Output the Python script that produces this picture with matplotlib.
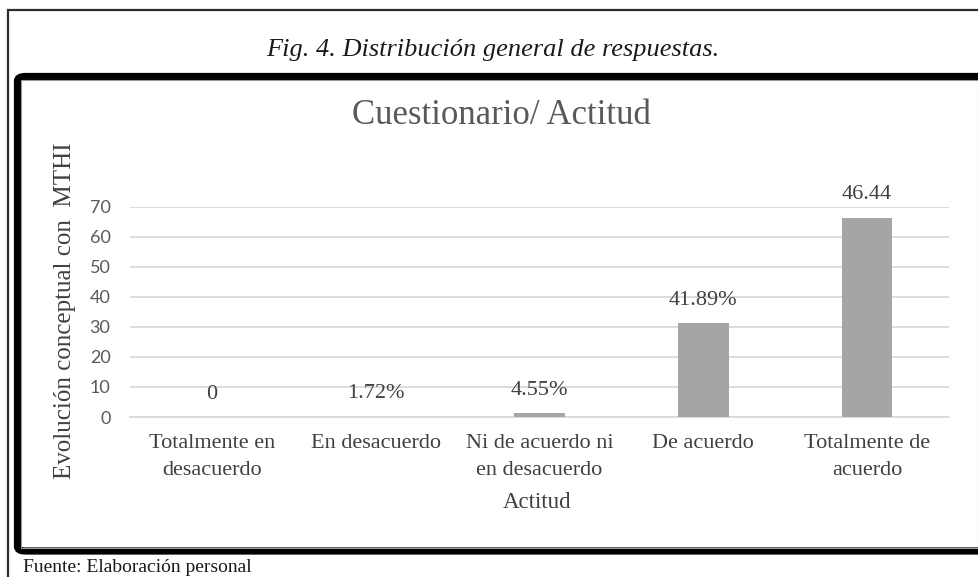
import matplotlib
matplotlib.use("Agg")
import matplotlib.pyplot as plt
from matplotlib.patches import FancyBboxPatch, Rectangle

# ---- data ----
categories = ["Totalmente en\ndesacuerdo", "En desacuerdo", "Ni de acuerdo ni\nen desacuerdo",
              "De acuerdo", "Totalmente de\nacuerdo"]
values = [0, 0.1, 1.2, 31.3, 66.3]
value_labels = ["0", "1.72%", "4.55%", "41.89%", "46.44"]
yticks = [0, 10, 20, 30, 40, 50, 60, 70]

W, H = 979, 577
DPI = 100
fig = plt.figure(figsize=(W / DPI, H / DPI), dpi=DPI)
fig.patch.set_facecolor("white")

SERIF = ["Liberation Serif", "DejaVu Serif"]
SANS = ["Lato", "DejaVu Sans"]


def fx(x):
    return x / W


def fy(y):
    return 1 - y / H


# outer thin border
fig.patches.append(Rectangle((fx(8), fy(590)), fx(1000) - fx(8), fy(10) - fy(590),
                             transform=fig.transFigure, fill=False,
                             edgecolor="#2b2b2b", linewidth=1.6))
# thick box
fig.patches.append(FancyBboxPatch((fx(17.5), fy(551)), fx(1010) - fx(17.5), fy(76.5) - fy(551),
                                  boxstyle="round,pad=0,rounding_size=0.008",
                                  transform=fig.transFigure, fill=False,
                                  edgecolor="black", linewidth=5.2))
# inner thin chart border
fig.patches.append(Rectangle((fx(21), fy(548)), fx(978) - fx(21), fy(79.5) - fy(548),
                             transform=fig.transFigure, fill=False,
                             edgecolor="#9a9a9a", linewidth=0.8))

# caption & source
fig.text(fx(493), fy(50), "Fig. 4. Distribución general de respuestas.", ha="center", va="center",
         fontsize=19, style="italic", family=SERIF, color="#1a1a1a")
fig.text(fx(23), fy(576), "Fuente: Elaboración personal", ha="left", va="bottom",
         fontsize=14, family=SERIF, color="#1a1a1a")

# chart title
fig.text(fx(501), fy(115), "Cuestionario/ Actitud", ha="center", va="center",
         fontsize=25, family=SERIF, color="#595959")

# axes
left, right, top, bottom = 130, 949, 206.7, 417
ax = fig.add_axes([fx(left), fy(bottom), fx(right) - fx(left), fy(top) - fy(bottom)])
ax.set_facecolor("none")
x = list(range(len(categories)))
ax.bar(x, values, width=0.31, color="#a5a5a5", zorder=3)
ax.set_xlim(-0.5, len(categories) - 0.5)
ax.set_ylim(0, 70)
ax.set_yticks(yticks)
ax.set_yticklabels([str(v) for v in yticks], family=SANS, fontsize=13, color="#595959")
ax.set_xticks(x)
ax.set_xticklabels(categories, family=SERIF, fontsize=16, color="#404040", linespacing=1.6)
ax.tick_params(axis="y", length=0, pad=14)
ax.tick_params(axis="x", length=0, pad=12)
ax.grid(axis="y", color="#d9d9d9", linewidth=1.3, zorder=0)
for s in ["left", "right", "top"]:
    ax.spines[s].set_visible(False)
ax.spines["bottom"].set_color("#d9d9d9")
ax.spines["bottom"].set_linewidth(1.3)

for xi, v, lab in zip(x, values, value_labels):
    ax.annotate(lab, (xi, v), xytext=(0, 16.5), textcoords="offset points",
                ha="center", va="center", family=SERIF, fontsize=16, color="#404040",
                annotation_clip=False)

fig.text(fx(537), fy(502), "Actitud", ha="center", va="center",
         fontsize=16.5, family=SERIF, color="#404040")
fig.text(fx(65), fy(311), "Evolución conceptual con  MTHI", ha="center", va="center",
         rotation=90, fontsize=18, family=SERIF, color="#404040")

fig.savefig("out.png", dpi=DPI, facecolor="white")
